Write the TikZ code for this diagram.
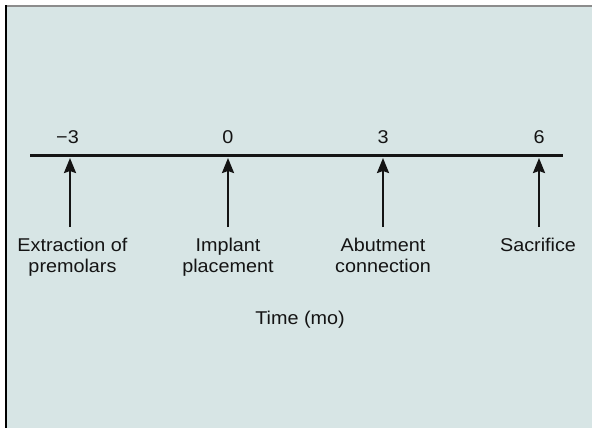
\documentclass[tikz,border=0pt]{standalone}
\usepackage{fontspec}
\setmainfont{Liberation Sans}[FakeStretch=1.07]
\usetikzlibrary{arrows.meta}
\definecolor{bg}{HTML}{D7E5E5}
\definecolor{ink}{HTML}{141414}
\definecolor{topline}{HTML}{8C8C8C}
\begin{document}
\begin{tikzpicture}[x=1bp,y=-1bp,
  lbl/.style={inner sep=0pt,font=\fontsize{18.5bp}{21.5bp}\selectfont,text=ink,anchor=base,align=center},
  arr/.style={draw=ink,line width=2.2bp,-{Stealth[length=15bp,width=12bp,inset=2bp]}},
  axis/.style={draw=ink,line width=2.2bp}]
\useasboundingbox (0,0) rectangle (592,428);
\fill[bg] (6,6) rectangle (592,428);
\draw[topline,line width=1.6bp] (6,5.8) -- (592,5.8);
\draw[black,line width=1.8bp] (6.3,5) -- (6.3,428);
% axis
\coordinate (L) at (30,155.5);
\coordinate (R) at (563,155.5);
\draw[axis] (L) -- (R);
% tick labels
\node[lbl] (t1) at (67.5,143) {\char"2212 3};
\node[lbl] (t2) at (228,143) {0};
\node[lbl] (t3) at (383,143) {3};
\node[lbl] (t4) at (539,143) {6};
% arrows
\foreach \n/\x in {1/70,2/228,3/383,4/539}{
  \coordinate (s\n) at (\x,227);
  \coordinate (e\n) at (\x,158);
  \draw[arr] (s\n) -- (e\n);
}
% labels (base anchor = baseline of last line)
\node[lbl] (l1) at (72.5,272.5) {Extraction of\\premolars};
\node[lbl] (l2) at (228,272.5) {Implant\\placement};
\node[lbl] (l3) at (383,272.5) {Abutment\\connection};
\node[lbl] (l4) at (538,251) {Sacrifice};
\node[lbl] (time) at (300,324) {Time (mo)};
\end{tikzpicture}
\end{document}
